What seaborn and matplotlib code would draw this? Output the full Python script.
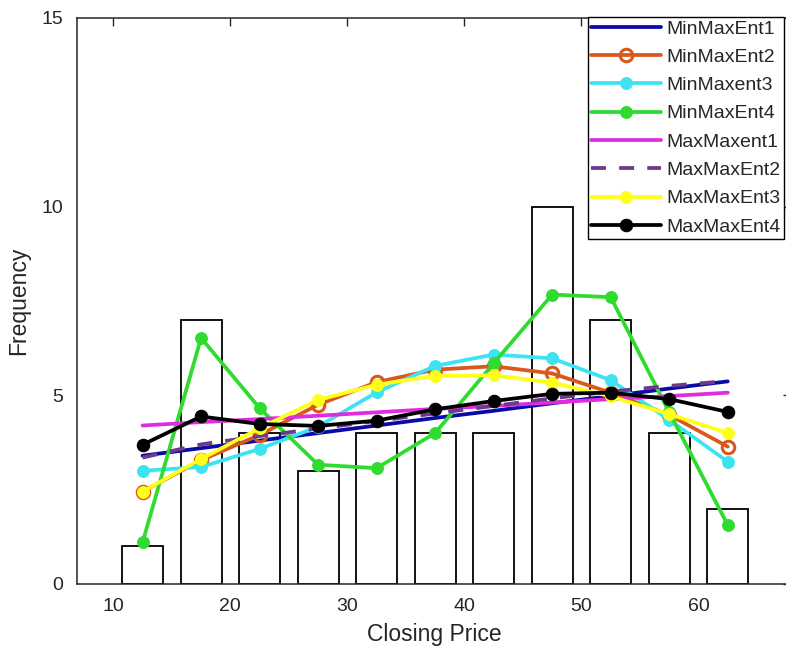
import matplotlib
matplotlib.use("Agg")
import matplotlib.pyplot as plt
import seaborn as sns

# Histogram of closing prices (bin centres, counts, edges)
price_centres = [12.5, 17.5, 22.5, 27.5, 32.5, 37.5, 42.5, 47.5, 52.5, 57.5, 62.5]
price_counts = [1, 7, 4, 3, 4, 4, 4, 10, 7, 4, 2]
bin_edges = [10, 15, 20, 25, 30, 35, 40, 45, 50, 55, 60, 65]

# Fitted maximum-entropy densities evaluated at the bin centres
min_max_ent1 = [3.40, 3.60, 3.80, 4.00, 4.20, 4.40, 4.59, 4.79, 4.98, 5.18, 5.37]
min_max_ent2 = [2.45, 3.28, 3.95, 4.75, 5.35, 5.68, 5.77, 5.58, 5.07, 4.48, 3.64]
min_max_ent3 = [3.00, 3.10, 3.58, 4.17, 5.08, 5.78, 6.08, 5.98, 5.40, 4.35, 3.24]
min_max_ent4 = [1.10, 6.52, 4.66, 3.16, 3.07, 4.00, 5.85, 7.67, 7.60, 4.55, 1.56]
max_max_ent1 = [4.20, 4.29, 4.37, 4.46, 4.55, 4.64, 4.72, 4.81, 4.90, 4.98, 5.07]
max_max_ent2 = [3.35, 3.70, 3.92, 4.12, 4.32, 4.52, 4.72, 4.92, 5.10, 5.25, 5.38]
max_max_ent3 = [2.45, 3.31, 4.13, 4.88, 5.28, 5.52, 5.53, 5.34, 4.97, 4.50, 4.00]
max_max_ent4 = [3.69, 4.44, 4.24, 4.19, 4.33, 4.63, 4.85, 5.04, 5.07, 4.90, 4.56]

series = [
    ("MinMaxEnt1", min_max_ent1, dict(color="#0a0aa8", marker=None)),
    ("MinMaxEnt2", min_max_ent2, dict(color="#d9581c", marker="o", mfc="none",
                                      mec="#d9581c", mew=2.2, ms=9)),
    ("MinMaxent3", min_max_ent3, dict(color="#3de3f0", marker="o", mec="#3de3f0", ms=8.5)),
    ("MinMaxEnt4", min_max_ent4, dict(color="#2fdb2f", marker="o", mec="#2fdb2f", ms=8.5)),
    ("MaxMaxent1", max_max_ent1, dict(color="#e02ce0", marker=None)),
    ("MaxMaxEnt2", max_max_ent2, dict(color="#6e3a8e", marker=None, ls=(0, (4, 3.5)))),
    ("MaxMaxEnt3", max_max_ent3, dict(color="#ffff1a", marker="o", mec="#ffff1a", ms=8.5)),
    ("MaxMaxEnt4", max_max_ent4, dict(color="#000000", marker="o", mec="#000000", ms=9)),
]

sns.set_theme(style="white")
plt.rcParams["font.family"] = ["Liberation Sans", "DejaVu Sans"]
text_color = "#262626"

fig = plt.figure(figsize=(7.86, 6.55), dpi=100)
ax = fig.add_axes([77 / 786, 71 / 655, 714 / 786, 566 / 655])

sns.histplot(x=price_centres, weights=price_counts, bins=bin_edges, shrink=0.7,
             fill=False, color="black", linewidth=1.3, ax=ax, zorder=1)

handles = []
for name, values, style in series:
    style = dict(style)
    marker = style.pop("marker")
    sns.lineplot(x=price_centres, y=values, ax=ax, lw=2.7, marker=marker,
                 label=name, zorder=3, legend=False, **style)
    handles.append(ax.lines[-1])

ax.set_xlim(6.9, 67.9)
ax.set_ylim(0, 15)
ax.set_xticks([10, 20, 30, 40, 50, 60])
ax.set_yticks([0, 5, 10, 15])
ax.tick_params(axis="both", direction="in", length=6, width=1, colors=text_color,
               labelsize=14, pad=10, top=True, right=True)
for sp in ax.spines.values():
    sp.set_color(text_color)
    sp.set_linewidth(1.1)

ax.set_xlabel("Closing Price", fontsize=16.5, color=text_color, labelpad=6)
ax.set_ylabel("Frequency", fontsize=16.5, color=text_color, labelpad=8)

leg = ax.legend(handles, [s[0] for s in series], loc="upper right",
                bbox_to_anchor=(784 / 786, 638 / 655), bbox_transform=fig.transFigure,
                borderaxespad=0, fontsize=14, frameon=True, fancybox=False,
                framealpha=1, edgecolor="black", handlelength=3.6,
                handletextpad=0.3, labelspacing=0.55, borderpad=0.15, numpoints=1)
leg.get_frame().set_linewidth(1.0)
for t in leg.get_texts():
    t.set_color(text_color)

fig.savefig("out.png", dpi=100)
